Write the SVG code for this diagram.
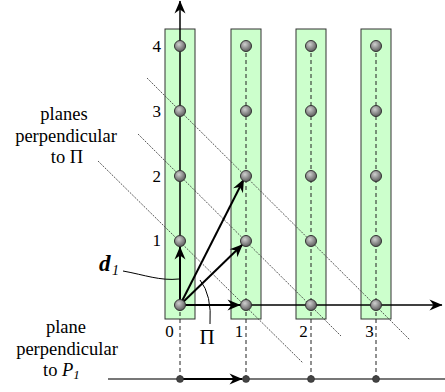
<svg xmlns="http://www.w3.org/2000/svg" width="445" height="392" viewBox="0 0 445 392">
<style>
.lbl{font-size:17px}
.txt{font-size:18.5px;text-anchor:middle}
.col{fill:#ccffcc;stroke:#333;stroke-width:1}
.dash{stroke:#222;stroke-width:1;stroke-dasharray:4,3;fill:none}
.diag{stroke:#444;stroke-width:0.9;stroke-dasharray:2,1.2;fill:none}
.arr{stroke:#000;stroke-width:2;fill:none;marker-end:url(#ah)}
.axis{stroke:#000;stroke-width:1.5;fill:none;marker-end:url(#ah)}
.dot{fill:url(#g);stroke:#333;stroke-width:1}
.sdot{fill:#444;stroke:#222;stroke-width:0.5}
</style>
<defs>
<radialGradient id="g" cx="0.4" cy="0.35" r="0.7">
<stop offset="0" stop-color="#cfcfcf"/>
<stop offset="1" stop-color="#555"/>
</radialGradient>
<marker id="ah" markerUnits="userSpaceOnUse" markerWidth="16" markerHeight="12" refX="13" refY="6" orient="auto" viewBox="0 0 16 12">
<path d="M13.5,6 L0.5,0.5 L4.5,6 L0.5,11.5 Z" fill="#000"/>
</marker>
</defs>
<g id="columns">
<rect class="col" x="165" y="29" width="30" height="290"/>
<rect class="col" x="231" y="29" width="30" height="290"/>
<rect class="col" x="296" y="29" width="30" height="290"/>
<rect class="col" x="361" y="29" width="30" height="290"/>
</g>
<g id="connectors">
<line class="diag" x1="147" y1="78" x2="410" y2="340"/>
<line class="diag" x1="138" y1="134" x2="341" y2="336"/>
<line class="diag" x1="98" y1="161" x2="303" y2="363"/>
<line class="dash" x1="246" y1="46" x2="246" y2="379"/>
<line class="dash" x1="311" y1="46" x2="311" y2="379"/>
<line class="dash" x1="376" y1="46" x2="376" y2="379"/>
<line class="dash" x1="180" y1="305" x2="180" y2="379"/>
<line x1="108" y1="379" x2="445" y2="379" stroke="#777" stroke-width="2"/>
<line class="axis" x1="180" y1="305" x2="180" y2="1"/>
<line class="axis" x1="180" y1="305" x2="442" y2="305"/>
<line class="arr" x1="180" y1="305" x2="180" y2="247"/>
<line class="arr" x1="180" y1="305" x2="242.5" y2="244.5"/>
<line class="arr" x1="180" y1="305" x2="243.7" y2="179.5"/>
<line class="arr" x1="180" y1="305" x2="240" y2="305"/>
<line class="arr" x1="180" y1="379" x2="242" y2="379"/>
<path d="M123,271 C145,275 160,281 179,279" stroke="#000" stroke-width="1" fill="none"/>
<path d="M210,324 Q212,295 200,280" stroke="#000" stroke-width="1" fill="none"/>
</g>
<g id="lattice">
<circle class="dot" cx="180" cy="46" r="5.5"/>
<circle class="dot" cx="180" cy="111" r="5.5"/>
<circle class="dot" cx="180" cy="176" r="5.5"/>
<circle class="dot" cx="180" cy="241" r="5.5"/>
<circle class="dot" cx="180" cy="305" r="5.5"/>
<circle class="dot" cx="246" cy="46" r="5.5"/>
<circle class="dot" cx="246" cy="111" r="5.5"/>
<circle class="dot" cx="246" cy="176" r="5.5"/>
<circle class="dot" cx="246" cy="241" r="5.5"/>
<circle class="dot" cx="246" cy="305" r="5.5"/>
<circle class="dot" cx="311" cy="46" r="5.5"/>
<circle class="dot" cx="311" cy="111" r="5.5"/>
<circle class="dot" cx="311" cy="176" r="5.5"/>
<circle class="dot" cx="311" cy="241" r="5.5"/>
<circle class="dot" cx="311" cy="305" r="5.5"/>
<circle class="dot" cx="376" cy="46" r="5.5"/>
<circle class="dot" cx="376" cy="111" r="5.5"/>
<circle class="dot" cx="376" cy="176" r="5.5"/>
<circle class="dot" cx="376" cy="241" r="5.5"/>
<circle class="dot" cx="376" cy="305" r="5.5"/>
</g>
<g id="projection">
<circle class="sdot" cx="180" cy="379" r="3.5"/>
<circle class="sdot" cx="246" cy="379" r="3.5"/>
<circle class="sdot" cx="311" cy="379" r="3.5"/>
<circle class="sdot" cx="376" cy="379" r="3.5"/>
</g>
<g id="labels" font-family="'Liberation Serif', 'DejaVu Serif', serif" fill="#000">
<text class="lbl" x="161" y="52" text-anchor="end">4</text>
<text class="lbl" x="161" y="117" text-anchor="end">3</text>
<text class="lbl" x="161" y="182" text-anchor="end">2</text>
<text class="lbl" x="161" y="246" text-anchor="end">1</text>
<text class="lbl" x="169.5" y="337" text-anchor="middle">0</text>
<text class="lbl" x="239" y="337" text-anchor="middle">1</text>
<text class="lbl" x="303.5" y="337" text-anchor="middle">2</text>
<text class="lbl" x="369.5" y="337" text-anchor="middle">3</text>
<text x="207" y="344" font-size="21" text-anchor="middle">Π</text>
<text x="99" y="271" font-size="23" font-weight="bold" font-style="italic">d</text>
<text x="112" y="275" font-size="14" font-style="italic">1</text>
</g>
<g id="text-planes" font-family="'Liberation Serif', 'DejaVu Serif', serif" fill="#000">
<text class="txt" x="64" y="120">planes</text>
<text class="txt" x="66" y="142">perpendicular</text>
<text class="txt" x="67" y="163">to Π</text>
</g>
<g id="text-plane" font-family="'Liberation Serif', 'DejaVu Serif', serif" fill="#000">
<text class="txt" x="66" y="333">plane</text>
<text class="txt" x="67" y="355">perpendicular</text>
<text x="43" y="376" font-size="18.5">to <tspan font-style="italic">P</tspan><tspan font-style="italic" font-size="13" dy="3">1</tspan></text>
</g>
</svg>
